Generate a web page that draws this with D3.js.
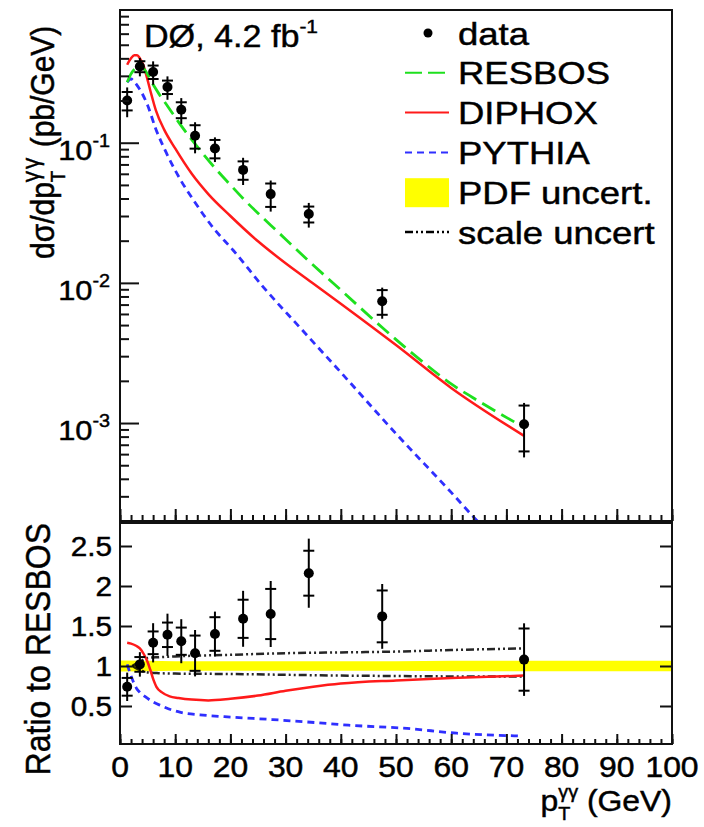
<!DOCTYPE html>
<html><head><meta charset="utf-8">
<script src="https://cdn.jsdelivr.net/npm/d3@7"></script>
<style>
body{margin:0;background:#fff}
svg{display:block}
text{font-family:"Liberation Sans",Arial,Helvetica,sans-serif;fill:#000}
</style>
</head><body>
<svg id="c" width="704" height="827"></svg>
<script>
// ---------------- DATA ----------------
const ptData   = [1.3, 3.6, 6.0, 8.6, 11.1, 13.6, 17.2, 22.3, 27.3, 34.2, 47.5, 73.2];
const xsecData = [0.20, 0.35, 0.32, 0.25, 0.172, 0.112, 0.091, 0.064, 0.043, 0.031, 0.0074, 0.00098];
const ratioData= [0.74, 1.02, 1.29, 1.39, 1.31, 1.16, 1.40, 1.59, 1.65, 2.16, 1.62, 1.08];
const statRel  = [0.15, 0.09, 0.11, 0.11, 0.13, 0.19, 0.15, 0.15, 0.19, 0.13, 0.20, 0.36];
const totRel   = [0.24, 0.15, 0.19, 0.19, 0.21, 0.25, 0.20, 0.22, 0.25, 0.20, 0.25, 0.42];

const resbosX = [1.3, 2, 3, 3.6, 4.5, 6, 7, 8.6, 10, 11.1, 13.6, 17.2, 20, 22.3, 27.3, 30, 34.2, 40, 47.5, 55, 60, 65, 73.2];
const resbosY = [0.27, 0.31, 0.345, 0.355, 0.33, 0.26, 0.225, 0.183, 0.152, 0.132, 0.098, 0.066, 0.050, 0.040, 0.0258, 0.0205, 0.0143, 0.0089, 0.0048, 0.0027, 0.0019, 0.00143, 0.00093];

const diphoxX = [1.3, 2, 2.6, 3.1, 3.6, 4.2, 4.8, 5.5, 6.5, 8, 10, 13, 16, 20, 25, 30, 35, 40, 50, 60, 73.2];
const diphoxY = [0.36, 0.40, 0.42, 0.42, 0.40, 0.36, 0.30, 0.235, 0.17, 0.124, 0.091, 0.060, 0.043, 0.030, 0.0198, 0.0138, 0.0099, 0.0071, 0.0036, 0.00178, 0.00081];

const pythiaX = [1.3, 2, 2.5, 3, 4, 5, 6.5, 8.5, 11, 13.3, 17, 20.5, 26, 32.6, 40, 50, 60, 65, 70];
const pythiaY = [0.27, 0.285, 0.275, 0.26, 0.225, 0.185, 0.125, 0.083, 0.054, 0.039, 0.0244, 0.0171, 0.0093, 0.0048, 0.0023, 0.00084, 0.00032, 0.000195, 0.000125];

const diphoxRatioX = [1.3, 2, 3, 3.6, 4.3, 5, 5.5, 6.1, 6.6, 7.6, 9, 10.6, 13, 16, 20, 25, 30, 35, 40, 50, 60, 73.2];
const diphoxRatio  = [1.29, 1.28, 1.25, 1.22, 1.15, 1.05, 0.95, 0.82, 0.74, 0.67, 0.62, 0.60, 0.58, 0.57, 0.59, 0.63, 0.69, 0.74, 0.78, 0.82, 0.85, 0.88];

const pythiaRatioX = [1.3, 2.2, 3, 3.6, 4.5, 6, 7.6, 9.4, 11, 14.5, 20.5, 27.7, 35.9, 41.4, 52, 61, 72.5];
const pythiaRatio  = [1.02, 0.84, 0.72, 0.67, 0.62, 0.55, 0.50, 0.45, 0.42, 0.39, 0.36, 0.33, 0.29, 0.26, 0.22, 0.16, 0.125];

const scaleX  = [2.2, 3.5, 5, 7, 10, 20, 30, 40, 50, 60, 73.2];
const scaleUp = [1.0, 1.05, 1.10, 1.11, 1.12, 1.14, 1.16, 1.17, 1.18, 1.20, 1.22];
const scaleDn = [1.0, 0.95, 0.92, 0.91, 0.905, 0.90, 0.89, 0.88, 0.875, 0.87, 0.87];

const pdfX  = [0, 5, 10, 20, 30, 40, 50, 60, 70, 80, 90, 100];
const pdfLo = [0.93, 0.935, 0.94, 0.94, 0.94, 0.94, 0.94, 0.935, 0.935, 0.935, 0.935, 0.935];
const pdfHi = [1.07, 1.065, 1.06, 1.06, 1.06, 1.06, 1.06, 1.065, 1.065, 1.065, 1.065, 1.065];

const xTickLabels = [0, 10, 20, 30, 40, 50, 60, 70, 80, 90, 100];
const yTopMajor   = [1e-3, 1e-2, 1e-1];
const yTopLabels  = ["-3", "-2", "-1"];
const yRatioTicks = [0.5, 1, 1.5, 2, 2.5];
const yRatioLabels= ["0.5", "1", "1.5", "2", "2.5"];
const legendNames = ["data", "RESBOS", "DIPHOX", "PYTHIA", "PDF uncert.", "scale uncert"];

// ---------------- LAYOUT ----------------
const svg = d3.select("#c");
const X0 = 120, X1 = 672;
const T0 = 10, T1 = 521;
const R0 = 523, R1 = 744;
const SX = 1.1;
const C = {green:"#1ee01e", red:"#ff1a1a", blue:"#2f2fff", yellow:"#ffff00", ink:"#111"};

const x  = d3.scaleLinear().domain([0, 100]).range([X0, X1]);
const yT = d3.scaleLog().domain([2.0e-4, 0.885]).range([T1, T0]);
const yR = d3.scaleLinear().domain([0.025, 2.7875]).range([R1, R0]);

const defs = svg.append("defs");
defs.append("clipPath").attr("id","clipT").append("rect").attr("x",X0).attr("y",T0).attr("width",X1-X0).attr("height",T1-T0);
defs.append("clipPath").attr("id","clipR").append("rect").attr("x",X0).attr("y",R0).attr("width",X1-X0).attr("height",R1-R0);

function txt(g, xp, yp, anchor, size, rot, sx) {
  return g.append("text")
    .attr("transform", `translate(${xp},${yp}) scale(${sx||SX},1)` + (rot ? ` rotate(${rot})` : ""))
    .attr("text-anchor", anchor).attr("font-size", size)
    .attr("stroke", "#000").attr("stroke-width", 0.45);
}
function subsup(t, base, sub, sup, rest, fs, subK, supK, supLs) {
  t.append("tspan").text(base);
  const s = t.append("tspan").attr("font-size", fs*subK).attr("dy", fs*0.32).text(sub);
  const w = s.node().getComputedTextLength();
  t.append("tspan").attr("font-size", fs*supK).attr("letter-spacing", supLs).attr("dx", -w).attr("dy", -fs*0.32 - fs*0.44).text(sup);
  t.append("tspan").attr("dy", fs*0.44).text(rest);
}

// ---------------- TOP PANEL ----------------
const gT = svg.append("g");
const gTc = gT.append("g").attr("clip-path","url(#clipT)");

const lineT = (xs, ys) => d3.line().x((d,i)=>x(xs[i])).y((d,i)=>yT(ys[i])).curve(d3.curveMonotoneX)(xs);

gTc.append("path").attr("d", lineT(pythiaX, pythiaY)).attr("fill","none")
  .attr("stroke",C.blue).attr("stroke-width",2.8).attr("stroke-dasharray","7,5");
gTc.append("path").attr("d", lineT(diphoxX, diphoxY)).attr("fill","none")
  .attr("stroke",C.red).attr("stroke-width",2.5);
gTc.append("path").attr("d", lineT(resbosX, resbosY)).attr("fill","none")
  .attr("stroke",C.green).attr("stroke-width",2.8).attr("stroke-dasharray","15,7");

ptData.forEach((p,i) => {
  const v = xsecData[i], cx = x(p);
  gTc.append("line").attr("x1",cx).attr("x2",cx)
    .attr("y1",yT(v*(1-totRel[i]))).attr("y2",yT(v*(1+totRel[i])))
    .attr("stroke","#000").attr("stroke-width",2);
  [v*(1-statRel[i]), v*(1+statRel[i])].forEach(s =>
    gTc.append("line").attr("x1",cx-5.5).attr("x2",cx+5.5).attr("y1",yT(s)).attr("y2",yT(s))
      .attr("stroke","#000").attr("stroke-width",2));
  gTc.append("circle").attr("cx",cx).attr("cy",yT(v)).attr("r",5).attr("fill","#000");
});

const minorT = [];
for (let e=-4; e<=0; e++) for (let k=2; k<=9; k++) { const v=k*Math.pow(10,e); if (v>=2.0e-4 && v<=0.885) minorT.push(v); }
const styleAxis = g => { g.select(".domain").remove(); g.selectAll("line").attr("stroke",C.ink).attr("stroke-width",2); };
gT.append("g").attr("transform",`translate(${X0},0)`)
  .call(d3.axisLeft(yT).tickValues(minorT).tickSizeInner(-9).tickSizeOuter(0).tickFormat("")).call(styleAxis);
gT.append("g").attr("transform",`translate(${X0},0)`)
  .call(d3.axisLeft(yT).tickValues(yTopMajor).tickSizeInner(-19).tickSizeOuter(0).tickFormat("")).call(styleAxis);
gT.append("g").attr("transform",`translate(0,${T1})`)
  .call(d3.axisBottom(x).tickValues(d3.range(0,101,2)).tickSizeInner(-6).tickSizeOuter(0).tickFormat("")).call(styleAxis);
gT.append("g").attr("transform",`translate(0,${T1})`)
  .call(d3.axisBottom(x).tickValues(xTickLabels).tickSizeInner(-12).tickSizeOuter(0).tickFormat("")).call(styleAxis);
gT.append("rect").attr("x",X0).attr("y",T0).attr("width",X1-X0).attr("height",T1-T0)
  .attr("fill","none").attr("stroke",C.ink).attr("stroke-width",2);

yTopMajor.forEach((v,i) => {
  const t = txt(gT, 110, yT(v)+17, "end", 28);
  t.append("tspan").text("10");
  t.append("tspan").attr("font-size",18).attr("dy",-13).text(yTopLabels[i]);
});

{
  const t = txt(gT, 54, 259, "start", 30, -90);
  subsup(t, "dσ/dp", "T", "γγ", " (pb/GeV)", 30, 0.62, 0.75, 2);
}

{
  const t = txt(gT, 144, 47, "start", 31);
  t.append("tspan").text("DØ, 4.2 fb");
  t.append("tspan").attr("font-size",19).attr("dy",-14).text("-1");
}

const gL = svg.append("g");
legendNames.forEach((name,i) => {
  const cy = 33 + i*39.8;
  txt(gL, 458, cy+11.5, "start", 32, 0, 1.14).text(name);
  if (i===0) gL.append("circle").attr("cx",428).attr("cy",cy).attr("r",4.5).attr("fill","#000");
  if (i===1) gL.append("line").attr("x1",405).attr("x2",449).attr("y1",cy).attr("y2",cy).attr("stroke",C.green).attr("stroke-width",2).attr("stroke-dasharray","17,6");
  if (i===2) gL.append("line").attr("x1",405).attr("x2",449).attr("y1",cy).attr("y2",cy).attr("stroke",C.red).attr("stroke-width",2);
  if (i===3) gL.append("line").attr("x1",405).attr("x2",449).attr("y1",cy).attr("y2",cy).attr("stroke",C.blue).attr("stroke-width",2).attr("stroke-dasharray","7,5");
  if (i===4) gL.append("rect").attr("x",405).attr("y",cy-14).attr("width",44).attr("height",29).attr("fill",C.yellow);
  if (i===5) gL.append("line").attr("x1",405).attr("x2",449).attr("y1",cy).attr("y2",cy).attr("stroke","#000").attr("stroke-width",2.5).attr("stroke-dasharray","8,3,2,3,2,3");
});

// ---------------- RATIO PANEL ----------------
const gR = svg.append("g");
const gRc = gR.append("g").attr("clip-path","url(#clipR)");

gRc.append("path")
  .attr("d", d3.area().x((d,i)=>x(pdfX[i])).y0((d,i)=>yR(pdfLo[i])).y1((d,i)=>yR(pdfHi[i]))(pdfX))
  .attr("fill", C.yellow);

const lineR = (xs, ys) => d3.line().x((d,i)=>x(xs[i])).y((d,i)=>yR(ys[i])).curve(d3.curveMonotoneX)(xs);

[scaleUp, scaleDn].forEach(s =>
  gRc.append("path").attr("d", lineR(scaleX, s)).attr("fill","none")
    .attr("stroke","#000").attr("stroke-width",2.5).attr("stroke-dasharray","8,3,2,3,2,3").attr("opacity",0.85));

gRc.append("path").attr("d", lineR(pythiaRatioX, pythiaRatio)).attr("fill","none")
  .attr("stroke",C.blue).attr("stroke-width",2.8).attr("stroke-dasharray","7,5");
gRc.append("path").attr("d", lineR(diphoxRatioX, diphoxRatio)).attr("fill","none")
  .attr("stroke",C.red).attr("stroke-width",2.5);

ptData.forEach((p,i) => {
  const v = ratioData[i], cx = x(p);
  gRc.append("line").attr("x1",cx).attr("x2",cx)
    .attr("y1",yR(v*(1-totRel[i]))).attr("y2",yR(v*(1+totRel[i])))
    .attr("stroke","#000").attr("stroke-width",2);
  [v*(1-statRel[i]), v*(1+statRel[i])].forEach(s =>
    gRc.append("line").attr("x1",cx-5.5).attr("x2",cx+5.5).attr("y1",yR(s)).attr("y2",yR(s))
      .attr("stroke","#000").attr("stroke-width",2));
  gRc.append("circle").attr("cx",cx).attr("cy",yR(v)).attr("r",5).attr("fill","#000");
});

gR.append("g").attr("transform",`translate(${X0},0)`)
  .call(d3.axisLeft(yR).tickValues(yRatioTicks).tickSizeInner(-12).tickSizeOuter(0).tickFormat("")).call(styleAxis);
gR.append("g").attr("transform",`translate(${X1},0)`)
  .call(d3.axisRight(yR).tickValues(yRatioTicks).tickSizeInner(-12).tickSizeOuter(0).tickFormat("")).call(styleAxis);
gR.append("g").attr("transform",`translate(0,${R1})`)
  .call(d3.axisBottom(x).tickValues(d3.range(0,101,2)).tickSizeInner(-5).tickSizeOuter(0).tickFormat("")).call(styleAxis);
gR.append("g").attr("transform",`translate(0,${R1})`)
  .call(d3.axisBottom(x).tickValues(xTickLabels).tickSizeInner(-10).tickSizeOuter(0).tickFormat("")).call(styleAxis);
gR.append("rect").attr("x",X0).attr("y",R0).attr("width",X1-X0).attr("height",R1-R0)
  .attr("fill","none").attr("stroke",C.ink).attr("stroke-width",2);

yRatioTicks.forEach((v,i) => txt(gR, 112, yR(v)+10, "end", 27).text(yRatioLabels[i]));
xTickLabels.forEach(v => txt(gR, x(v), 777, "middle", 29).text(String(v)));

{
  const t = txt(gR, 672, 811, "end", 29);
  subsup(t, "p", "T", "γγ", " (GeV)", 29, 0.62, 0.62, 0);
}
txt(gR, 50, 523, "end", 32, -90).text("Ratio to RESBOS");
</script>
</body></html>
